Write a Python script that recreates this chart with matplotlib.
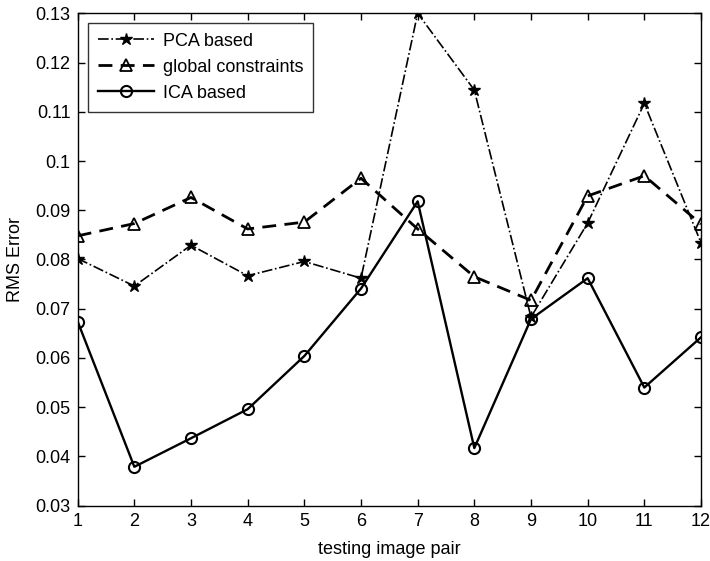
import numpy as np
import matplotlib.pyplot as plt

plt.rcParams['font.family'] = ['Liberation Sans', 'DejaVu Sans']

pairs = list(range(1, 13))
pca_err = [0.0802, 0.0746, 0.0829, 0.0767, 0.0796, 0.0762, 0.1300, 0.1144, 0.0683, 0.0874, 0.1117, 0.0834]
glob_err = [0.0848, 0.0873, 0.0926, 0.0862, 0.0876, 0.0965, 0.0862, 0.0765, 0.0717, 0.0929, 0.0970, 0.0872]
ica_err = [0.0674, 0.0379, 0.0437, 0.0496, 0.0604, 0.0741, 0.0918, 0.0417, 0.0679, 0.0762, 0.0540, 0.0642]

fig = plt.figure(figsize=(7.1, 5.61), dpi=100)
ax = fig.add_axes([0.1094, 0.0986, 0.8779, 0.8777])

ax.plot(pairs, pca_err, color="black", linestyle="-.", linewidth=1.2,
        marker="*", markersize=9, markerfacecolor="black", label="PCA based")
ax.plot(pairs, glob_err, color="black", linestyle=(0, (5, 3)), linewidth=2.0,
        marker="^", markersize=9, markerfacecolor="none", markeredgewidth=1.3,
        label="global constraints")
ax.plot(pairs, ica_err, color="black", linestyle="-", linewidth=1.7,
        marker="o", markersize=8, markerfacecolor="none", markeredgewidth=1.5,
        label="ICA based")

ax.set_xlim(1, 12)
ax.set_ylim(0.03, 0.13)
ax.set_xticks(pairs)
ax.set_yticks(np.arange(0.03, 0.131, 0.01))
ax.set_yticklabels(["0.03", "0.04", "0.05", "0.06", "0.07", "0.08", "0.09",
                    "0.1", "0.11", "0.12", "0.13"])
ax.tick_params(direction="in", length=5, width=1, top=True, right=True,
               labelsize=13, colors="black", pad=5)
for s in ax.spines.values():
    s.set_linewidth(1)

ax.set_xlabel("testing image pair", fontsize=13, labelpad=8)
ax.set_ylabel("RMS Error", fontsize=13, labelpad=8)

leg = ax.legend(loc="upper left", bbox_to_anchor=(0.016, 0.981), fontsize=13,
                frameon=True, fancybox=False, handlelength=3.1,
                borderpad=0.55, labelspacing=0.5, handletextpad=0.5,
                borderaxespad=0)
leg.get_frame().set_edgecolor("black")
leg.get_frame().set_linewidth(1)

fig.savefig("out.png", dpi=100)
